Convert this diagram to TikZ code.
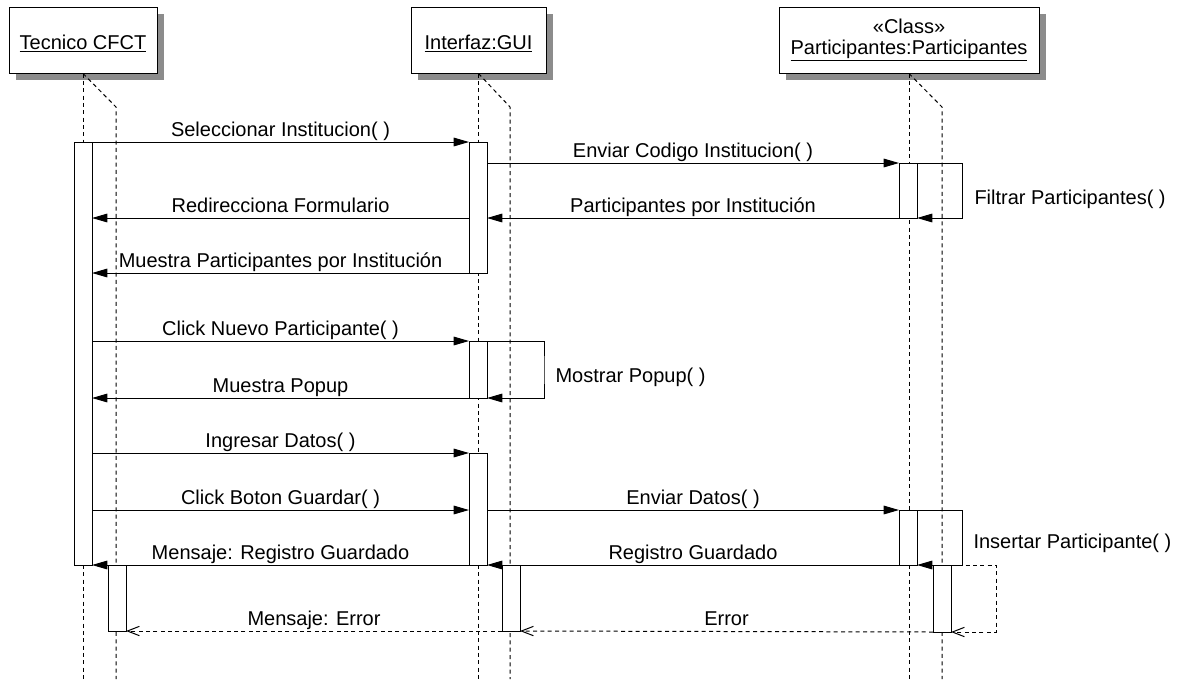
\documentclass[tikz,border=0pt]{standalone}
\usepackage{fontspec}
\setmainfont{Liberation Sans}
\usetikzlibrary{arrows.meta,shadows}
\begin{document}
\begin{tikzpicture}[x=0.75pt,y=-0.75pt,
  font=\fontsize{15}{18.5}\selectfont,
  line width=0.75pt,
  head/.style={draw, fill=white, minimum height=49.5pt, inner sep=0pt,
    drop shadow={shadow xshift=5pt, shadow yshift=-5pt, fill=gray!90, opacity=1}},
  life/.style={dash pattern=on 3pt off 2.5pt},
  act/.style={draw, fill=white, minimum width=13.5pt, inner sep=0pt, outer sep=0pt, anchor=north},
  msg/.style={-{Triangle[length=11.5pt,width=6.5pt]}},
  ret/.style={dash pattern=on 3pt off 2.5pt, -{Straight Barb[length=9pt,width=7pt]}},
  lbl/.style={anchor=base, yshift=4.5pt, inner sep=0pt},
  selflbl/.style={anchor=base west, inner sep=0pt},
]
\useasboundingbox (0,0) rectangle (1184,679);

% object headers
\node[head, minimum width=111pt, text height=16pt, text depth=2pt] (hT) at (83,40) {\underline{Tecnico CFCT}};
\node[head, minimum width=101.25pt, text height=16pt, text depth=2pt] (hG) at (478.5,40) {\underline{Interfaz:GUI}};
\node[head, minimum width=195pt] (hP) at (909,40)
  {\raisebox{-3pt}{\fontsize{15}{15.75}\selectfont\begin{tabular}{@{}c@{}}«Class»\\\underline{Participantes:Participantes}\end{tabular}}};

% lifelines with their focus lines
\coordinate (fT) at (116,107);
\coordinate (fG) at (510,107);
\coordinate (fP) at (942,107);
\coordinate (bottom) at (0,679);
\draw[life] (hT.south) -- (hT.south |- bottom);
\draw[life] (hT.south) -- (fT) -- (fT |- bottom);
\draw[life] (hG.south) -- (hG.south |- bottom);
\draw[life] (hG.south) -- (fG) -- (fG |- bottom);
\draw[life] (hP.south) -- (hP.south |- bottom);
\draw[life] (hP.south) -- (fP) -- (fP |- bottom);

% activation bars
\node[act, minimum height=317.25pt] (aT1) at (83,142) {};
\node[act, minimum height=49.5pt]   (aT2) at (117,565) {};
\node[act, minimum height=98.25pt]  (aG1) at (478,142) {};
\node[act, minimum height=42.75pt]  (aG2) at (478,341) {};
\node[act, minimum height=84pt]     (aG3) at (478,453) {};
\node[act, minimum height=49.5pt]   (aG4) at (511,565) {};
\node[act, minimum height=41.25pt]  (aP1) at (908,163) {};
\node[act, minimum height=41.25pt]  (aP2) at (908,510) {};
\node[act, minimum height=50.25pt]  (aP3) at (942,565) {};

% turning points of the self messages
\coordinate (loopF) at (962,190);
\coordinate (loopM) at (544,370);
\coordinate (loopI) at (962,540);
\coordinate (loopE) at (996,600);

% messages
\draw[msg] (aT1.north east) -- node[lbl]{Seleccionar Institucion( )} (aG1.north west);
\draw[msg] (aG1.east |- aP1.north) -- node[lbl]{Enviar Codigo Institucion( )} (aP1.north west);
\draw[msg] (aP1.north east) -| (loopF) |- (aP1.south east);
\node[selflbl] (tF) at (974,204) {Filtrar Participantes( )};
\draw[msg] (aP1.south west) -- node[lbl]{Participantes por Institución} (aG1.east |- aP1.south);
\draw[msg] (aG1.west |- aP1.south) -- node[lbl]{Redirecciona Formulario} (aT1.east |- aP1.south);
\draw[msg] (aG1.south west) -- node[lbl]{Muestra Participantes por Institución} (aT1.east |- aG1.south);

\draw[msg] (aT1.east |- aG2.north) -- node[lbl]{Click Nuevo Participante( )} (aG2.north west);
\draw[msg] (aG2.north east) -| (loopM) |- (aG2.south east);
\node[selflbl] (tM) at (555,382) {Mostrar Popup( )};
\draw[msg] (aG2.south west) -- node[lbl]{Muestra Popup} (aT1.east |- aG2.south);

\draw[msg] (aT1.east |- aG3.north) -- node[lbl]{Ingresar Datos( )} (aG3.north west);
\draw[msg] (aT1.east |- aP2.north) -- node[lbl]{Click Boton Guardar( )} (aG3.west |- aP2.north);
\draw[msg] (aG3.east |- aP2.north) -- node[lbl]{Enviar Datos( )} (aP2.north west);
\draw[msg] (aP2.north east) -| (loopI) |- (aP2.south east);
\node[selflbl] (tI) at (973,548) {Insertar Participante( )};
\draw[msg] (aP2.south west) -- node[lbl]{Registro Guardado} (aG3.south east);
\draw[msg] (aG3.south west) -- node[lbl]{Mensaje: Registro Guardado} (aT1.south east);

% error returns
\draw[ret] (aP3.north east) -| (loopE) |- (aP3.south east);
\draw[ret] (aP3.south west) -- node[lbl]{Error} (aG4.south east);
\draw[ret] (aG4.south west) -- node[lbl]{Mensaje: Error} (aT2.south east);
\end{tikzpicture}
\end{document}
